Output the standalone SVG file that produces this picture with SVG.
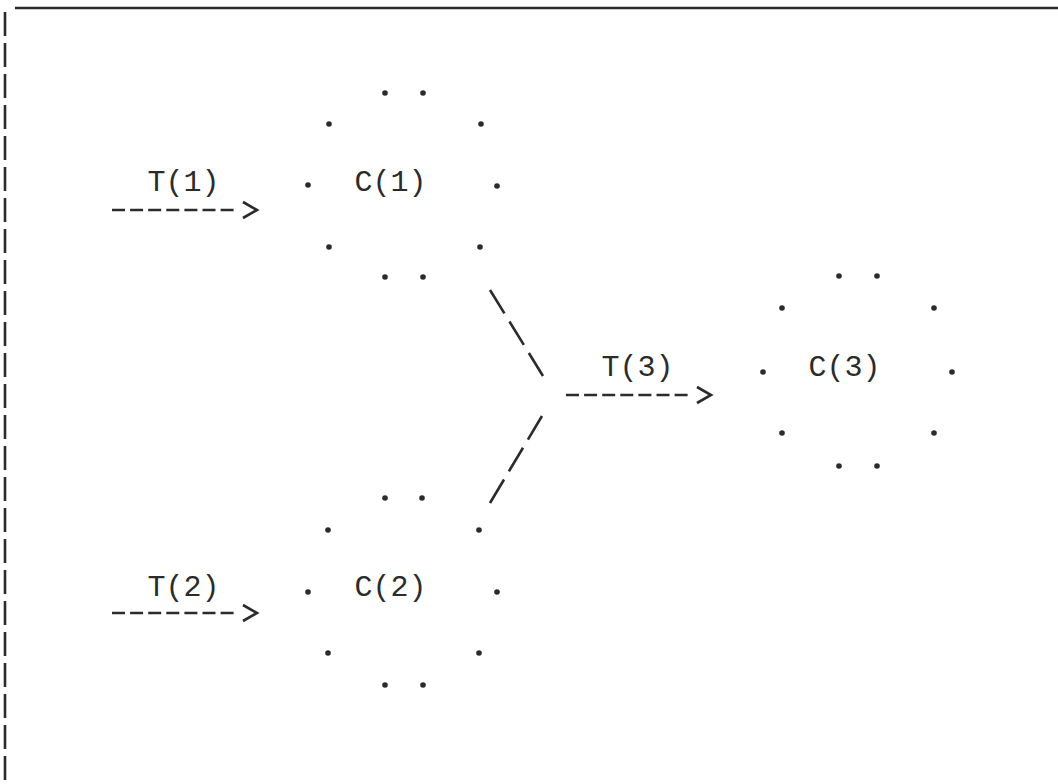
<svg xmlns="http://www.w3.org/2000/svg" width="1058" height="784" viewBox="0 0 1058 784">
  <defs>
    <style>
      .ink { stroke: #2b2b2b; fill: none; stroke-width: 2.6; stroke-linecap: butt; }
      .dot { fill: #2b2b2b; }
      .lbl { font-family: "Liberation Mono", "DejaVu Sans Mono", monospace; font-size: 30px; fill: #2b2b2b; text-anchor: middle; }
      .flow { stroke-dasharray: 13 5.1; }
      .join { stroke-dasharray: 27.5 9.5; }
    </style>
    <!-- open chevron head, like a typed ">" -->
    <marker id="chev" markerUnits="userSpaceOnUse" markerWidth="30" markerHeight="20" refX="0" refY="10" orient="auto" overflow="visible">
      <path d="M9,2 L23,10 L9,18" fill="none" stroke="#2b2b2b" stroke-width="2.6"/>
    </marker>
  </defs>

  <rect width="1058" height="784" fill="#ffffff"/>

  <!-- page frame: ruled top edge, typed left edge -->
  <g id="frame">
    <line class="ink" x1="15" y1="8" x2="1058" y2="8" stroke-width="3"/>
    <line class="ink" x1="5" y1="12" x2="5" y2="784" stroke-dasharray="24 7"/>
  </g>

  <!-- connectors -->
  <g id="connectors">
    <path class="ink flow" d="M112,210 L234,210" marker-end="url(#chev)"/>
    <text class="lbl" x="183.5" y="191">T(1)</text>

    <path class="ink flow" d="M112,613 L234,613" marker-end="url(#chev)"/>
    <text class="lbl" x="183.5" y="596">T(2)</text>

    <path class="ink join" d="M490,290 L543,376"/>
    <path class="ink join" d="M542,416 L490,503"/>

    <path class="ink flow" d="M566,395 L688,395" marker-end="url(#chev)"/>
    <text class="lbl" x="637.5" y="376">T(3)</text>
  </g>

  <!-- node C(1) -->
  <g id="C1">
    <circle class="dot" cx="385" cy="93" r="2.8"/>
    <circle class="dot" cx="423" cy="93" r="2.8"/>
    <circle class="dot" cx="329" cy="124" r="2.8"/>
    <circle class="dot" cx="481" cy="124" r="2.8"/>
    <circle class="dot" cx="308" cy="185" r="2.8"/>
    <circle class="dot" cx="497" cy="186" r="2.8"/>
    <circle class="dot" cx="329" cy="247" r="2.8"/>
    <circle class="dot" cx="480" cy="247" r="2.8"/>
    <circle class="dot" cx="385" cy="277" r="2.8"/>
    <circle class="dot" cx="423" cy="277" r="2.8"/>
    <text class="lbl" x="390.5" y="191">C(1)</text>
  </g>

  <!-- node C(2) -->
  <g id="C2">
    <circle class="dot" cx="385" cy="498" r="2.8"/>
    <circle class="dot" cx="422" cy="498" r="2.8"/>
    <circle class="dot" cx="328" cy="530" r="2.8"/>
    <circle class="dot" cx="479" cy="530" r="2.8"/>
    <circle class="dot" cx="308" cy="592" r="2.8"/>
    <circle class="dot" cx="497" cy="592" r="2.8"/>
    <circle class="dot" cx="328" cy="653" r="2.8"/>
    <circle class="dot" cx="479" cy="653" r="2.8"/>
    <circle class="dot" cx="385" cy="685" r="2.8"/>
    <circle class="dot" cx="423" cy="685" r="2.8"/>
    <text class="lbl" x="390.5" y="596">C(2)</text>
  </g>

  <!-- node C(3) -->
  <g id="C3">
    <circle class="dot" cx="839" cy="276" r="2.8"/>
    <circle class="dot" cx="877" cy="276" r="2.8"/>
    <circle class="dot" cx="782" cy="308" r="2.8"/>
    <circle class="dot" cx="934" cy="308" r="2.8"/>
    <circle class="dot" cx="763" cy="372" r="2.8"/>
    <circle class="dot" cx="952" cy="372" r="2.8"/>
    <circle class="dot" cx="782" cy="433" r="2.8"/>
    <circle class="dot" cx="934" cy="433" r="2.8"/>
    <circle class="dot" cx="839" cy="466" r="2.8"/>
    <circle class="dot" cx="877" cy="466" r="2.8"/>
    <text class="lbl" x="844.5" y="376">C(3)</text>
  </g>
</svg>
